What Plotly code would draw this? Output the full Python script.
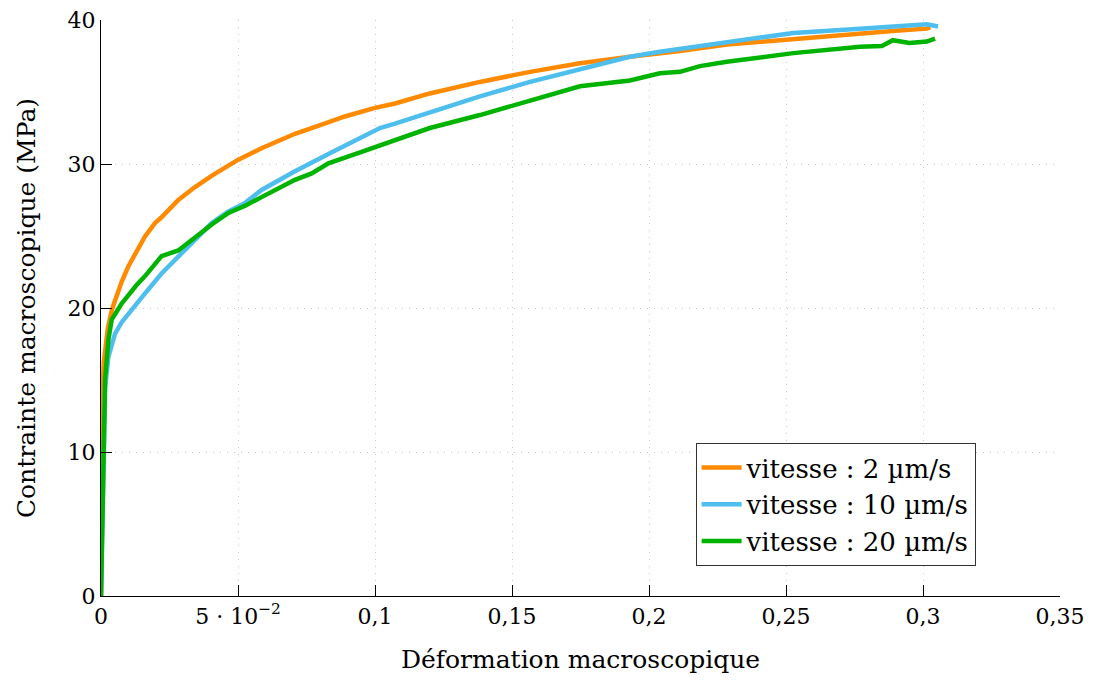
import plotly.graph_objects as go

# Data
x_2 = [0, 0.0003, 0.0006, 0.001, 0.0015, 0.0025, 0.004, 0.0055, 0.0075, 0.01, 0.013, 0.016,
       0.0197, 0.0221, 0.0282, 0.0343, 0.0405, 0.0501, 0.0586, 0.0708, 0.08, 0.089, 0.1, 0.1073,
       0.12, 0.1383, 0.1566, 0.1748, 0.193, 0.204, 0.2113, 0.2284, 0.2527, 0.277, 0.29, 0.3014, 0.3027]
y_2 = [0, 9, 14, 16.2, 17.2, 18.6, 19.9, 20.8, 21.8, 22.9, 24.0, 24.95,
       25.9, 26.3, 27.5, 28.4, 29.2, 30.3, 31.1, 32.1, 32.7, 33.3, 33.9, 34.2,
       34.9, 35.7, 36.4, 37.0, 37.45, 37.65, 37.85, 38.3, 38.7, 39.1, 39.25, 39.4, 39.5]

x_10 = [0, 0.0005, 0.001, 0.0015, 0.0027, 0.0051, 0.0075, 0.01, 0.013, 0.016, 0.0221, 0.0282,
        0.0343, 0.0404, 0.0465, 0.0526, 0.0586, 0.0708, 0.083, 0.0951, 0.1018, 0.1073, 0.12,
        0.1383, 0.1566, 0.1748, 0.193, 0.204, 0.2113, 0.2284, 0.2527, 0.277, 0.29, 0.3014, 0.3055]
y_10 = [0, 6, 11, 14.5, 16.6, 18.2, 19.0, 19.6, 20.4, 21.0, 22.4, 23.6,
        24.8, 25.9, 26.7, 27.3, 28.2, 29.5, 30.7, 31.9, 32.5, 32.8, 33.6,
        34.7, 35.7, 36.6, 37.45, 37.8, 38.0, 38.5, 39.1, 39.4, 39.55, 39.7, 39.55]

x_20 = [0, 0.0004, 0.0008, 0.0012, 0.0015, 0.0027, 0.0039, 0.0075, 0.01, 0.013, 0.016, 0.0197,
        0.0221, 0.0282, 0.0343, 0.0404, 0.0465, 0.0526, 0.0586, 0.0708, 0.0769, 0.083, 0.0951,
        0.1018, 0.1073, 0.12, 0.1383, 0.1566, 0.1748, 0.193, 0.204, 0.2113, 0.2186, 0.2284,
        0.2527, 0.277, 0.285, 0.289, 0.295, 0.3014, 0.3044]
y_20 = [0, 5, 10, 13.5, 15.1, 17.8, 19.2, 20.3, 20.9, 21.6, 22.2, 23.0,
        23.6, 24.0, 24.95, 25.8, 26.6, 27.1, 27.7, 28.9, 29.35, 30.05, 30.85,
        31.3, 31.7, 32.5, 33.4, 34.4, 35.4, 35.8, 36.3, 36.4, 36.8, 37.1,
        37.7, 38.15, 38.2, 38.6, 38.4, 38.5, 38.7]

series_names = ["vitesse : 2 µm/s", "vitesse : 10 µm/s", "vitesse : 20 µm/s"]
series_colors = ["#FF8A00", "#4DBEEE", "#00B300"]

x_tickvals = [0, 0.05, 0.1, 0.15, 0.2, 0.25, 0.3, 0.35]
x_ticktext = ["0", "5 · 10<sup>−2</sup>", "0,1", "0,15", "0,2", "0,25", "0,3", "0,35"]
y_tickvals = [0, 10, 20, 30, 40]

FONT = "DejaVu Serif"

fig = go.Figure()
for xs, ys, name, col in zip([x_2, x_10, x_20], [y_2, y_10, y_20], series_names, series_colors):
    fig.add_trace(go.Scatter(x=xs, y=ys, mode="lines", name=name,
                             line=dict(color=col, width=4.5)))

axis_common = dict(
    showline=True, linecolor="black", linewidth=1.2,
    ticks="inside", ticklen=11, tickcolor="black", tickwidth=1,
    showgrid=True, gridcolor="#c8c8c8", griddash="1px,6px", gridwidth=1,
    zeroline=False, mirror=False, automargin=False,
    ticklabeloverflow="allow",
    tickfont=dict(family=FONT, size=22, color="black"),
)

fig.update_xaxes(range=[0, 0.35], tickvals=x_tickvals, ticktext=x_ticktext,
                 title=dict(text="Déformation macroscopique",
                            font=dict(family=FONT, size=25, color="black"), standoff=22),
                 **axis_common)
fig.update_yaxes(range=[0, 40.001], tickvals=y_tickvals,
                 title=dict(text="Contrainte macroscopique (MPa)",
                            font=dict(family=FONT, size=25, color="black"), standoff=24),
                 **axis_common)

# page body has an 8px margin, so the figure is sized to fit the 1093x681 window
fig.update_layout(
    width=1085, height=673,
    margin=dict(l=93, r=33, t=12, b=85),
    plot_bgcolor="white", paper_bgcolor="white",
    font=dict(family=FONT, color="black"),
    legend=dict(x=0.912, y=0.052, xanchor="right", yanchor="bottom",
                bgcolor="white", bordercolor="#333", borderwidth=1,
                font=dict(family=FONT, size=26, color="black"),
                tracegroupgap=0, itemwidth=40),
    showlegend=True,
)

fig.write_html("out.html")
